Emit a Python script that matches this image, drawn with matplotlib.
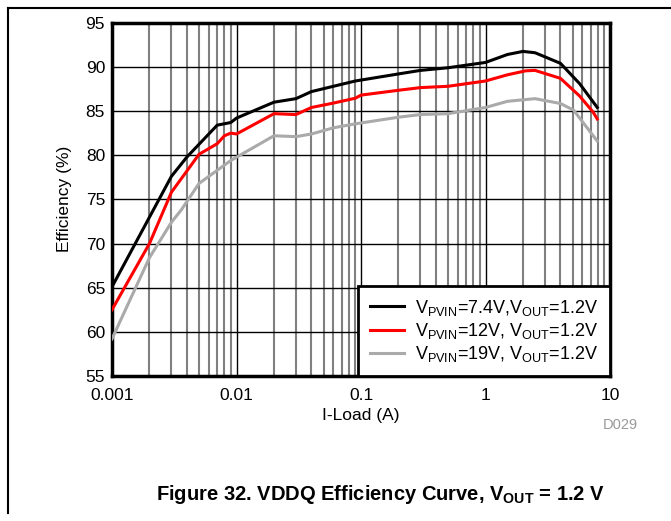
import numpy as np
import matplotlib
matplotlib.use("Agg")
import matplotlib.pyplot as plt
from matplotlib.lines import Line2D
from matplotlib.ticker import LogLocator, FixedLocator, NullFormatter

plt.rcParams["font.family"] = ["Liberation Sans", "DejaVu Sans"]
plt.rcParams["mathtext.fontset"] = "custom"
plt.rcParams["mathtext.rm"] = "Liberation Sans"
plt.rcParams["mathtext.it"] = "Liberation Sans"
plt.rcParams["mathtext.bf"] = "Liberation Sans:bold"

# -- Efficiency vs load current, one array per PVIN setting
load_74v = [0.001, 0.003, 0.004, 0.007, 0.009, 0.01, 0.02, 0.03, 0.04, 0.06, 0.09,
            0.2, 0.3, 0.5, 1.0, 1.5, 2.0, 2.5, 4.0, 5.7, 7.9]
eff_74v = [65.1, 77.6, 79.8, 83.4, 83.7, 84.2, 86.0, 86.4, 87.2, 87.8, 88.4,
           89.2, 89.6, 89.9, 90.5, 91.4, 91.75, 91.6, 90.4, 88.1, 85.4]

load_12v = [0.001, 0.002, 0.003, 0.005, 0.007, 0.008, 0.009, 0.01, 0.02, 0.03, 0.04,
            0.06, 0.09, 0.1, 0.2, 0.3, 0.5, 1.0, 1.5, 2.1, 2.5, 4.0, 5.7, 7.3, 7.9]
eff_12v = [62.5, 70.0, 75.8, 80.1, 81.3, 82.2, 82.5, 82.4, 84.7, 84.6, 85.4,
           85.9, 86.45, 86.8, 87.35, 87.65, 87.8, 88.4, 89.1, 89.55, 89.6, 88.7, 86.7, 84.9, 84.1]

load_19v = [0.001, 0.002, 0.003, 0.0036, 0.005, 0.009, 0.02, 0.03, 0.04, 0.06, 0.09,
            0.2, 0.3, 0.5, 1.0, 1.5, 2.5, 4.0, 5.1, 7.9]
eff_19v = [59.2, 68.4, 72.4, 73.8, 76.8, 79.4, 82.2, 82.1, 82.4, 83.1, 83.55,
           84.3, 84.6, 84.7, 85.4, 86.1, 86.4, 85.85, 85.1, 81.6]

x_ticks = [0.001, 0.01, 0.1, 1, 10]
x_tick_labels = ["0.001", "0.01", "0.1", "1", "10"]
y_ticks = [55, 60, 65, 70, 75, 80, 85, 90, 95]

fig = plt.figure(figsize=(6.71, 5.21), dpi=100)
ax = fig.add_axes([112 / 671, 1 - 376 / 521, 498 / 671, 353.3 / 521])

ax.plot(load_74v, eff_74v, color="black", lw=2.2, zorder=5)
ax.plot(load_12v, eff_12v, color="#ff0000", lw=2.2, zorder=5)
ax.plot(load_19v, eff_19v, color="#aaaaaa", lw=2.2, zorder=5)

ax.set_xscale("log")
ax.set_xlim(0.001, 10)
ax.set_ylim(55, 95)
ax.xaxis.set_major_locator(FixedLocator(x_ticks))
ax.set_xticklabels(x_tick_labels)
ax.xaxis.set_minor_locator(LogLocator(base=10, subs=np.arange(2, 10), numticks=20))
ax.xaxis.set_minor_formatter(NullFormatter())
ax.set_yticks(y_ticks)

ax.grid(which="major", color="black", lw=1)
ax.grid(which="minor", axis="x", color="#808080", lw=1.5)
ax.set_axisbelow(True)
ax.tick_params(which="both", length=0, labelsize=12.5)
ax.tick_params(axis="x", pad=9)
ax.tick_params(axis="y", pad=5)
for sp in ax.spines.values():
    sp.set_linewidth(2.5)

ax.set_xlabel("I-Load (A)", fontsize=12.5, labelpad=3)
ax.set_ylabel("Efficiency (%)", fontsize=12.5, labelpad=10)

handles = [Line2D([], [], color="black", lw=2.2),
           Line2D([], [], color="#ff0000", lw=2.2),
           Line2D([], [], color="#aaaaaa", lw=2.2)]
labels = [r"V$_{\mathrm{PVIN}}$=7.4V,V$_{\mathrm{OUT}}$=1.2V",
          r"V$_{\mathrm{PVIN}}$=12V, V$_{\mathrm{OUT}}$=1.2V",
          r"V$_{\mathrm{PVIN}}$=19V, V$_{\mathrm{OUT}}$=1.2V"]
leg = ax.legend(handles, labels, loc="lower right", borderaxespad=0,
                fontsize=13, frameon=True, fancybox=False, framealpha=1,
                handlelength=1.9, handletextpad=0.6, labelspacing=0.18,
                borderpad=0.65)
leg.get_frame().set_edgecolor("black")
leg.get_frame().set_linewidth(2)
leg.set_zorder(10)

fig.text(620 / 671, 1 - 425 / 521, "D029", fontsize=10.5, color="#999999",
         ha="center", va="center")
fig.text(380 / 671, 1 - 495 / 521,
         r"Figure 32. VDDQ Efficiency Curve, V$_{\mathbf{OUT}}$ = 1.2 V",
         fontsize=14.5, fontweight="bold", ha="center", va="center")

# page frame lines on the left and top
fig.add_artist(Line2D([8 / 671, 8 / 671], [1 - 513 / 521, 1 - 8 / 521],
                      color="black", lw=1.5, transform=fig.transFigure))
fig.add_artist(Line2D([8 / 671, 1.0], [1 - 8 / 521, 1 - 8 / 521],
                      color="black", lw=1.5, transform=fig.transFigure))

fig.savefig("out.png", dpi=100)
